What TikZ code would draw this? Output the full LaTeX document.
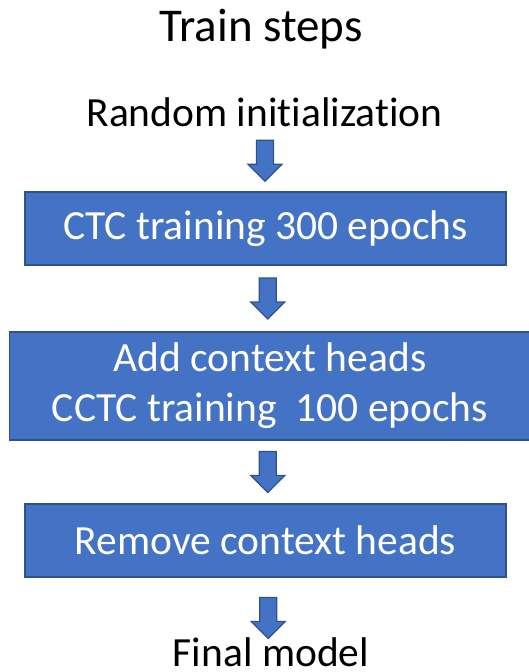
\documentclass[tikz,border=0pt]{standalone}
\usepackage{fontspec}
\setmainfont{Carlito}[Ligatures={NoCommon,NoContextual},RawFeature={-liga;-clig;-dlig;-calt}]
\definecolor{boxblue}{HTML}{4472C4}
\definecolor{boxedge}{HTML}{2F528F}
\begin{document}
\begin{tikzpicture}[x=1bp,y=-1bp,
  stepbox/.style={draw=boxedge, fill=boxblue, line width=1.5bp, text=white,
    font=\fontsize{41.5bp}{50bp}\selectfont, align=center, inner sep=0pt},
  plaintext/.style={inner sep=0pt, anchor=base, text height=0.75em, text depth=0.3em,
    font=\fontsize{41.5bp}{50bp}\selectfont},
  titletext/.style={inner sep=0pt, anchor=base, font=\fontsize{47bp}{56bp}\selectfont},
  arrowfill/.style={draw=boxedge, fill=boxblue, line width=1.2bp, line join=miter},
  downarrow/.pic={
    \draw[arrowfill] (-8.5,-20.5) -- (8.5,-20.5) -- (8.5,3.5) -- (17,3.5)
      -- (0,20.5) -- (-17,3.5) -- (-8.5,3.5) -- cycle;}]
  \useasboundingbox (0,0) rectangle (529,672);

  % title and start / end labels
  \node[titletext] (title) at (261,42) {Train steps};
  \node[plaintext] (start) at (264.5,127) {Random initialization};
  \node[plaintext, text depth=0pt] (final) at (271,666) {Final model};

  % training stages
  \node[stepbox, minimum width=481bp, minimum height=73bp] (ctc) at (265.5,228.5)
    {CTC training 300 epochs};
  \node[stepbox, minimum width=521bp, minimum height=108bp] (cctc) at (270,386)
    {Add context heads\\CCTC training\ \ 100 epochs};
  \node[stepbox, minimum width=481bp, minimum height=73bp] (remove) at (265.5,540.5)
    {Remove context heads};

  % block arrows between consecutive steps
  \path (start.south) -- (ctc.north) coordinate[midway] (m1);
  \path (ctc.south) -- (cctc.north) coordinate[midway] (m2);
  \path (cctc.south) -- (remove.north) coordinate[midway] (m3);
  \path (remove.south) -- (final.north) coordinate[midway] (m4);
  \pic at (m1) {downarrow};
  \pic at (m2) {downarrow};
  \pic at (m3) {downarrow};
  \pic at (m4) {downarrow};
\end{tikzpicture}
\end{document}
